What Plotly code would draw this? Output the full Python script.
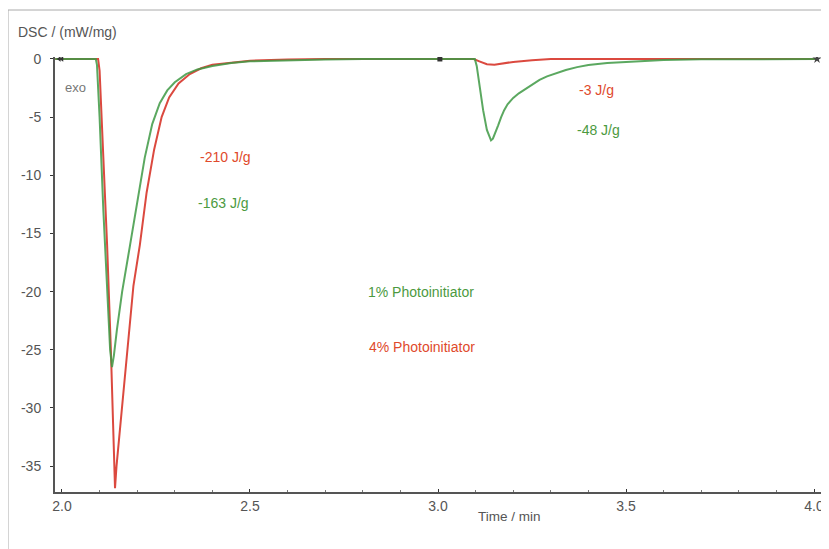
import plotly.graph_objects as go

# ---- data ----
t_1pct = [1.982, 2.090, 2.093, 2.100, 2.110, 2.120, 2.128, 2.133, 2.138, 2.146, 2.160, 2.181,
          2.200, 2.220, 2.240, 2.260, 2.280, 2.300, 2.330, 2.360, 2.400, 2.450, 2.500, 2.600,
          2.700, 2.800, 3.000, 3.098, 3.103, 3.110, 3.120, 3.130, 3.137, 3.141, 3.146, 3.152,
          3.160, 3.168, 3.176, 3.185, 3.200, 3.215, 3.231, 3.250, 3.270, 3.290, 3.317, 3.340,
          3.370, 3.400, 3.450, 3.500, 3.550, 3.600, 3.700, 3.800, 4.010]
dsc_1pct = [0.0, 0.0, -0.5, -5.0, -13.0, -20.0, -25.0, -26.5, -25.5, -23.3, -20.0, -16.0,
            -12.5, -8.5, -5.6, -3.8, -2.7, -2.0, -1.3, -0.9, -0.6, -0.35, -0.2, -0.1,
            -0.05, 0.0, 0.0, 0.0, -0.6, -2.3, -4.4, -6.1, -6.8, -7.0, -6.85, -6.4,
            -5.7, -5.0, -4.4, -3.9, -3.35, -2.95, -2.6, -2.2, -1.8, -1.5, -1.2, -0.95,
            -0.7, -0.52, -0.35, -0.25, -0.15, -0.08, -0.03, 0.0, 0.0]

t_4pct = [1.982, 2.096, 2.100, 2.110, 2.120, 2.130, 2.138, 2.141, 2.145, 2.149, 2.162, 2.178,
          2.190, 2.207, 2.225, 2.245, 2.265, 2.285, 2.310, 2.340, 2.370, 2.400, 2.450, 2.500,
          2.600, 2.700, 3.000, 3.095, 3.110, 3.130, 3.150, 3.170, 3.200, 3.250, 3.300, 4.010]
dsc_4pct = [0.0, 0.0, -1.0, -8.0, -16.0, -25.0, -33.0, -36.9, -35.0, -33.6, -29.3, -23.3,
            -19.5, -16.0, -11.5, -7.8, -5.0, -3.3, -2.1, -1.3, -0.8, -0.5, -0.3, -0.15,
            -0.05, 0.0, 0.0, 0.0, -0.2, -0.45, -0.5, -0.4, -0.25, -0.1, 0.0, 0.0]

x_ticks = [2.0, 2.5, 3.0, 3.5, 4.0]
x_tick_labels = ["2.0", "2.5", "3.0", "3.5", "4.0"]
y_ticks = [0, -5, -10, -15, -20, -25, -30, -35]
y_tick_labels = ["0", "-5", "-10", "-15", "-20", "-25", "-30", "-35"]

peak_labels = ["-210 J/g", "-163 J/g", "-3 J/g", "-48 J/g"]
peak_label_t = [2.362, 2.357, 3.370, 3.365]
peak_label_y = [-8.4, -12.4, -2.7, -6.1]
legend_labels = ["1% Photoinitiator", "4% Photoinitiator"]
legend_t = [2.809, 2.812]
legend_y = [-20.0, -24.8]

RED = "#d8362b"
GREEN = "#3f9a45"
RED_TXT = "#e04a2c"
GREEN_TXT = "#4c9a3f"
GREY = "#555555"
FONT = "Liberation Sans, Arial, sans-serif"

# page has an 8px body margin, so the figure is shifted by 8px
W, H = 821, 541
L, T, B, R = 47, 49, 57, 0
PW, PH = W - L - R, H - T - B


def px(xw):  # window x pixel -> paper x
    return (xw - 8 - L) / PW


def py(yw):  # window y pixel -> paper y
    return 1 - (yw - 8 - T) / PH


fig = go.Figure()
fig.add_trace(go.Scatter(x=t_4pct, y=dsc_4pct, mode="lines",
                         line=dict(color=RED, width=2), opacity=0.9, showlegend=False))
fig.add_trace(go.Scatter(x=t_1pct, y=dsc_1pct, mode="lines",
                         line=dict(color=GREEN, width=2), opacity=0.85, showlegend=False))

# segment markers
fig.add_trace(go.Scatter(x=[1.993, 2.0], y=[0, 0], mode="markers",
                         marker=dict(symbol="triangle-left", size=5, color="#333"),
                         showlegend=False))
fig.add_trace(go.Scatter(x=[3.005], y=[0], mode="markers",
                         marker=dict(symbol="square", size=5, color="#333"),
                         showlegend=False))
fig.add_trace(go.Scatter(x=[4.008], y=[0], mode="markers",
                         marker=dict(symbol="star", size=7, color="#444"),
                         showlegend=False))

cols = [RED_TXT, GREEN_TXT, RED_TXT, GREEN_TXT]
for txt, tx, ty, c in zip(peak_labels, peak_label_t, peak_label_y, cols):
    fig.add_annotation(x=tx, y=ty, text=txt, showarrow=False, xanchor="left", yanchor="middle",
                       font=dict(color=c, size=14, family=FONT))
for txt, tx, ty, c in zip(legend_labels, legend_t, legend_y, [GREEN_TXT, RED_TXT]):
    fig.add_annotation(x=tx, y=ty, text=txt, showarrow=False, xanchor="left", yanchor="middle",
                       font=dict(color=c, size=14, family=FONT))

# axis titles and exo label
fig.add_annotation(xref="paper", yref="paper", x=px(16), y=py(32),
                   text="DSC / (mW/mg)", showarrow=False, xanchor="left", yanchor="middle",
                   font=dict(color=GREY, size=14, family=FONT))
fig.add_annotation(xref="paper", yref="paper", x=px(509), y=py(516),
                   text="Time / min", showarrow=False, xanchor="center", yanchor="middle",
                   font=dict(color=GREY, size=13.5, family=FONT))
fig.add_annotation(xref="paper", yref="paper", x=px(63), y=py(87),
                   text="exo", showarrow=False, xanchor="left", yanchor="middle",
                   font=dict(color="#777777", size=13, family=FONT))

# outer frame (top and left)
fig.add_shape(type="line", xref="paper", yref="paper",
              x0=px(8), x1=px(829), y0=py(10), y1=py(10),
              line=dict(color="#aaaaaa", width=1))
fig.add_shape(type="line", xref="paper", yref="paper",
              x0=px(8), x1=px(8), y0=py(10), y1=py(549),
              line=dict(color="#aaaaaa", width=1))

fig.update_layout(
    width=W, height=H,
    margin=dict(l=L, r=R, t=T, b=B),
    paper_bgcolor="white", plot_bgcolor="white",
    font=dict(family=FONT, color=GREY, size=14),
    xaxis=dict(range=[1.9814, 4.0399], tickvals=x_ticks, ticktext=x_tick_labels,
               showgrid=False, zeroline=False, showline=True, linecolor=GREY, linewidth=2,
               ticks="inside", ticklen=3, tickcolor="#333",
               minor=dict(dtick=0.1, ticks="inside", ticklen=2, tickcolor="#777"),
               tickfont=dict(size=14, color=GREY)),
    yaxis=dict(range=[-37.23, 0.17], tickvals=y_ticks, ticktext=y_tick_labels,
               showgrid=False, zeroline=False, showline=True, linecolor=GREY, linewidth=2,
               ticks="outside", ticklen=3, tickcolor="#333", ticklabelstandoff=6,
               tickfont=dict(size=14, color=GREY)),
)

fig.write_html("out.html")
